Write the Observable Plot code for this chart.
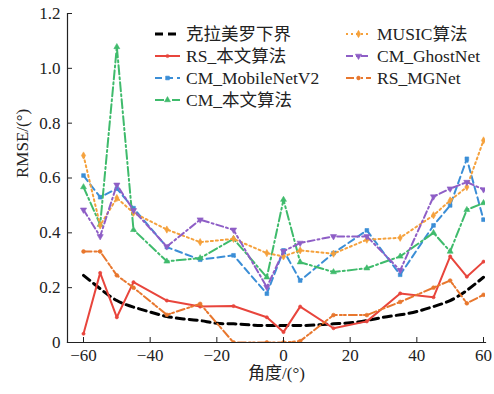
<!DOCTYPE html>
<html>
<head>
<meta charset="utf-8">
<script src="https://cdn.jsdelivr.net/npm/d3@7"></script>
<script src="https://cdn.jsdelivr.net/npm/@observablehq/plot@0.6"></script>
<style>
  body { margin: 0; background: #fff; }
  #chart { width: 494px; height: 394px; }
</style>
</head>
<body>
<div id="chart"></div>
<script>
// Test angles (degrees) shared by the estimator series
const angles = [-60, -55, -50, -45, -35, -25, -15, -5, 0, 5, 15, 25, 35, 45, 50, 55, 60];
// Cramér-Rao bound sampled every 5 degrees
const crbAngles = [-60, -55, -50, -45, -40, -35, -30, -25, -20, -15, -10, -5, 0, 5, 10, 15, 20, 25, 30, 35, 40, 45, 50, 55, 60];
const crb = [0.245, 0.196, 0.153, 0.129, 0.111, 0.095, 0.086, 0.080, 0.070, 0.068, 0.064, 0.062, 0.062, 0.062, 0.064, 0.068, 0.072, 0.080, 0.092, 0.101, 0.113, 0.131, 0.153, 0.190, 0.238];

// RMSE per method
const rsOurs    = [0.032, 0.254, 0.092, 0.220, 0.153, 0.131, 0.133, 0.092, 0.038, 0.131, 0.052, 0.077, 0.179, 0.165, 0.314, 0.240, 0.295];
const cmMobile  = [0.609, 0.530, 0.561, 0.490, 0.348, 0.302, 0.318, 0.178, 0.336, 0.226, 0.326, 0.409, 0.247, 0.427, 0.500, 0.670, 0.448];
const cmOurs    = [0.567, 0.430, 1.078, 0.411, 0.296, 0.308, 0.378, 0.238, 0.521, 0.293, 0.257, 0.271, 0.314, 0.400, 0.332, 0.484, 0.509];
const music     = [0.682, 0.427, 0.527, 0.473, 0.412, 0.366, 0.378, 0.326, 0.314, 0.336, 0.324, 0.375, 0.382, 0.464, 0.518, 0.567, 0.737];
const cmGhost   = [0.484, 0.387, 0.575, 0.482, 0.350, 0.448, 0.411, 0.202, 0.333, 0.363, 0.387, 0.387, 0.263, 0.532, 0.561, 0.585, 0.558];
const rsMGNet   = [0.332, 0.332, 0.245, 0.200, 0.101, 0.141, 0.000, 0.000, 0.000, 0.005, 0.100, 0.100, 0.148, 0.200, 0.226, 0.143, 0.174];

const xTicks = [-60, -40, -20, 0, 20, 40, 60];
const yTicks = [0, 0.2, 0.4, 0.6, 0.8, 1.0, 1.2];

const series = [
  {name: "RS_本文算法",     values: rsOurs,   color: "#e8453c", dash: null,          symbol: "circle",   r: 1.6, rotate: 0},
  {name: "CM_MobileNetV2", values: cmMobile, color: "#3b8ed6", dash: "7,4",         symbol: "square",   r: 2.1, rotate: 0},
  {name: "CM_本文算法",     values: cmOurs,   color: "#3fbb6c", dash: "9,3,2,3",     symbol: "triangle", r: 2.2, rotate: 0},
  {name: "MUSIC算法",       values: music,    color: "#f5a13c", dash: "2,3",         symbol: "diamond",  r: 2.2, rotate: 0},
  {name: "CM_GhostNet",    values: cmGhost,  color: "#8e5ec6", dash: "7,3,2,3",     symbol: "triangle", r: 2.3, rotate: 180},
  {name: "RS_MGNet",       values: rsMGNet,  color: "#e8772e", dash: "8,3,2,2,2,3", symbol: "circle",   r: 1.9, rotate: 0}
];

const rows = series.flatMap(s => angles.map((a, i) => ({method: s.name, angle: a, rmse: s.values[i]})));
const crbRows = crbAngles.map((a, i) => ({angle: a, rmse: crb[i]}));

const font = "'Liberation Serif', 'Times New Roman', 'Noto Sans CJK SC', serif";

const marks = [];
// bound curve
marks.push(Plot.line(crbRows, {x: "angle", y: "rmse", stroke: "#000", strokeWidth: 3, strokeDasharray: "8,5", curve: "natural", clip: true}));
for (const s of series) {
  const data = rows.filter(d => d.method === s.name);
  const lineOpts = {x: "angle", y: "rmse", stroke: s.color, strokeWidth: 2, clip: true};
  if (s.dash) lineOpts.strokeDasharray = s.dash;
  marks.push(Plot.line(data, lineOpts));
  marks.push(Plot.dot(data, {x: "angle", y: "rmse", fill: s.color, stroke: s.color, strokeWidth: 0.6, symbol: s.symbol, r: s.r, rotate: s.rotate, clip: true}));
}
// axis frame (left and bottom only), ticks pointing inward
marks.push(Plot.axisX({ticks: xTicks, tickSize: -5, tickPadding: 11, tickFormat: d => d < 0 ? "\u2212" + Math.abs(d) : String(d), fontSize: 17, label: null}));
marks.push(Plot.axisY({ticks: yTicks, tickSize: -5, tickPadding: 12, tickFormat: d => d === 0 ? "0" : d.toFixed(1), fontSize: 17, label: null}));
marks.push(Plot.frame({anchor: "left", stroke: "#222", strokeWidth: 1.2}));
marks.push(Plot.frame({anchor: "bottom", stroke: "#222", strokeWidth: 1.2}));
marks.push(Plot.text(["RMSE/(°)"], {frameAnchor: "left", rotate: -90, dx: -45, fontSize: 17, fill: "#222"}));
marks.push(Plot.text(["角度/(°)"], {frameAnchor: "bottom", dy: 36, fontSize: 17, fill: "#222"}));

const chart = Plot.plot({
  width: 494,
  height: 394,
  marginLeft: 67,
  marginRight: 9,
  marginTop: 13,
  marginBottom: 52,
  style: {fontFamily: font, fontSize: "17px", color: "#222", background: "#fff"},
  x: {domain: [-64.8, 60.6]},
  y: {domain: [0, 1.2]},
  marks
});
document.getElementById("chart").appendChild(chart);

// in-plot legend, two columns
const legendItems = [
  {name: "克拉美罗下界", color: "#000", dash: "8,5", width: 3, symbol: null},
  series[0], series[1], series[2], series[3], series[4], series[5]
];
const slots = [[0, 0], [0, 1], [0, 2], [0, 3], [1, 0], [1, 1], [1, 2]];
const colX = [155, 346];
const rowY = [34, 56, 78, 100];
const svg = d3.select(chart);
const lg = svg.append("g").attr("font-family", font).attr("font-size", 17.5).attr("fill", "#222").attr("text-anchor", "start");
legendItems.forEach((it, i) => {
  const [c, r] = slots[i];
  const x0 = colX[c], y0 = rowY[r];
  const g = lg.append("g").attr("transform", `translate(${x0},${y0})`);
  g.append("line").attr("x1", 0).attr("x2", 25).attr("y1", 0).attr("y2", 0)
    .attr("stroke", it.color).attr("stroke-width", it.width || 2)
    .attr("stroke-dasharray", it.dash || null);
  if (it.symbol) {
    const sym = {circle: d3.symbolCircle, square: d3.symbolSquare, triangle: d3.symbolTriangle, diamond: d3.symbolDiamond}[it.symbol];
    g.append("path").attr("d", d3.symbol(sym, Math.PI * it.r * it.r)())
      .attr("transform", `translate(12.5,0) rotate(${it.rotate})`)
      .attr("fill", it.color).attr("stroke", it.color).attr("stroke-width", 0.6);
  }
  g.append("text").attr("x", 31).attr("y", 0).attr("dy", "0.35em").attr("text-anchor", "start").text(it.name);
});
</script>
</body>
</html>
